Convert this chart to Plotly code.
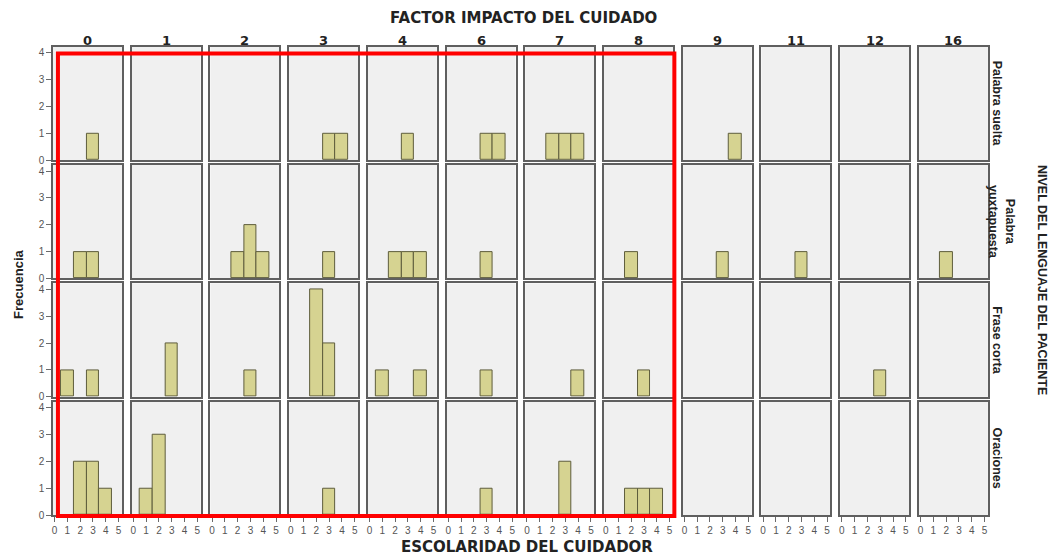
import plotly.graph_objects as go

# Facet categories
impacto = ["0", "1", "2", "3", "4", "6", "7", "8", "9", "11", "12", "16"]
niveles = ["Palabra suelta", "Palabra<br>yuxtapuesta", "Frase corta", "Oraciones"]
escolaridad = [0, 1, 2, 3, 4, 5]
y_ticks = [0, 1, 2, 3, 4]

# Frequency per escolaridad level (0..5), one list per "factor impacto" column
palabra_suelta = [
    [0, 0, 0, 1, 0, 0],  # 0
    [0, 0, 0, 0, 0, 0],  # 1
    [0, 0, 0, 0, 0, 0],  # 2
    [0, 0, 0, 1, 1, 0],  # 3
    [0, 0, 0, 1, 0, 0],  # 4
    [0, 0, 0, 1, 1, 0],  # 6
    [0, 0, 1, 1, 1, 0],  # 7
    [0, 0, 0, 0, 0, 0],  # 8
    [0, 0, 0, 0, 1, 0],  # 9
    [0, 0, 0, 0, 0, 0],  # 11
    [0, 0, 0, 0, 0, 0],  # 12
    [0, 0, 0, 0, 0, 0],  # 16
]
palabra_yuxtapuesta = [
    [0, 0, 1, 1, 0, 0],
    [0, 0, 0, 0, 0, 0],
    [0, 0, 1, 2, 1, 0],
    [0, 0, 0, 1, 0, 0],
    [0, 0, 1, 1, 1, 0],
    [0, 0, 0, 1, 0, 0],
    [0, 0, 0, 0, 0, 0],
    [0, 0, 1, 0, 0, 0],
    [0, 0, 0, 1, 0, 0],
    [0, 0, 0, 1, 0, 0],
    [0, 0, 0, 0, 0, 0],
    [0, 0, 1, 0, 0, 0],
]
frase_corta = [
    [0, 1, 0, 1, 0, 0],
    [0, 0, 0, 2, 0, 0],
    [0, 0, 0, 1, 0, 0],
    [0, 0, 4, 2, 0, 0],
    [0, 1, 0, 0, 1, 0],
    [0, 0, 0, 1, 0, 0],
    [0, 0, 0, 0, 1, 0],
    [0, 0, 0, 1, 0, 0],
    [0, 0, 0, 0, 0, 0],
    [0, 0, 0, 0, 0, 0],
    [0, 0, 0, 1, 0, 0],
    [0, 0, 0, 0, 0, 0],
]
oraciones = [
    [0, 0, 2, 2, 1, 0],
    [0, 1, 3, 0, 0, 0],
    [0, 0, 0, 0, 0, 0],
    [0, 0, 0, 1, 0, 0],
    [0, 0, 0, 0, 0, 0],
    [0, 0, 0, 1, 0, 0],
    [0, 0, 0, 2, 0, 0],
    [0, 0, 1, 1, 1, 0],
    [0, 0, 0, 0, 0, 0],
    [0, 0, 0, 0, 0, 0],
    [0, 0, 0, 0, 0, 0],
    [0, 0, 0, 0, 0, 0],
]
filas = [palabra_suelta, palabra_yuxtapuesta, frase_corta, oraciones]

W, H = 1051, 560
FONT = "Liberation Sans, Arial, sans-serif"
WIDE_FONT = "DejaVu Sans, Verdana, sans-serif"
BAR_FILL = "#d6d391"
BAR_LINE = "#5e5d3c"
PANEL_LINE = "#5f5f5f"
TEXT = "#222222"

# Panel grid geometry in pixels
COL_LEFT, COL_PITCH, COL_W = 52.0, 78.8, 69.0
ROW_TOP, ROW_PITCH, ROW_H = 47.3, 119.6, 114.6

fig = go.Figure()
layout = {}

n = 0
for r, fila in enumerate(filas):
    for c, counts in enumerate(fila):
        n += 1
        xa = "x" if n == 1 else f"x{n}"
        ya = "y" if n == 1 else f"y{n}"
        xs = [e for e, v in zip(escolaridad, counts) if v > 0]
        ys = [v for v in counts if v > 0]
        fig.add_trace(go.Bar(
            x=xs, y=ys, width=1.0, xaxis=xa, yaxis=ya,
            marker=dict(color=BAR_FILL, line=dict(color=BAR_LINE, width=1)),
            showlegend=False, hoverinfo="x+y",
        ))
        x0 = COL_LEFT + COL_PITCH * c
        y0 = ROW_TOP + ROW_PITCH * r
        bottom = r == len(filas) - 1
        left = c == 0
        layout["xaxis" if n == 1 else f"xaxis{n}"] = dict(
            domain=[x0 / W, (x0 + COL_W) / W], anchor=ya,
            range=[-0.13, 5.26], tickvals=escolaridad,
            showticklabels=bottom, ticks="outside" if bottom else "",
            ticklen=5, tickcolor="#6a6a6a", tickwidth=1,
            tickfont=dict(family=FONT, size=10, color="#555555"),
            showline=True, mirror=True, linecolor=PANEL_LINE, linewidth=1.5,
            showgrid=False, zeroline=False, fixedrange=True,
        )
        layout["yaxis" if n == 1 else f"yaxis{n}"] = dict(
            domain=[1 - (y0 + ROW_H) / H, 1 - y0 / H], anchor=xa,
            range=[0, 4.22], tickvals=y_ticks,
            showticklabels=left, ticks="outside" if left else "",
            ticklen=5, tickcolor="#6a6a6a", tickwidth=1,
            tickfont=dict(family=FONT, size=10, color="#555555"),
            showline=True, mirror=True, linecolor=PANEL_LINE, linewidth=1.5,
            showgrid=False, zeroline=False, fixedrange=True,
        )


def label(px, py, text, angle=0, size=12, family=FONT):
    return dict(
        x=px / W, y=1 - py / H, xref="paper", yref="paper",
        xanchor="center", yanchor="middle", text=f"<b>{text}</b>",
        textangle=angle, showarrow=False,
        font=dict(family=family, size=size, color=TEXT),
    )


annotations = []
# Column headers
for c, lab in enumerate(impacto):
    annotations.append(label(COL_LEFT + COL_PITCH * c + COL_W / 2, 41, lab,
                             size=13, family=WIDE_FONT))
# Row labels on the right (two-line label sits a bit further out)
right_edge = COL_LEFT + COL_PITCH * 11 + COL_W
for r, lab in enumerate(niveles):
    cy = ROW_TOP + ROW_PITCH * r + ROW_H / 2
    offset = 14 if "<br>" in lab else 9
    annotations.append(label(right_edge + offset, cy, lab, angle=90, size=12.5))
annotations += [
    label(523, 18, "FACTOR IMPACTO DEL CUIDADO", size=15, family=WIDE_FONT),
    label(527, 553, "ESCOLARIDAD DEL CUIDADOR", size=15, family=WIDE_FONT),
    label(18, 287, "Frecuencia", angle=-90, size=13),
    label(1042, 283, "NIVEL DEL LENGUAJE DEL PACIENTE", angle=90, size=12.5),
]

# Highlight frame around the first eight columns
shapes = [dict(
    type="rect", xref="paper", yref="paper",
    x0=57 / W, x1=674 / W, y0=1 - 521.5 / H, y1=1 - 54 / H,
    line=dict(color="#ff0000", width=4), fillcolor="rgba(0,0,0,0)", layer="above",
)]

fig.update_layout(
    width=W, height=H, margin=dict(l=0, r=0, t=0, b=0),
    paper_bgcolor="white", plot_bgcolor="#f0f0f0",
    bargap=0, annotations=annotations, shapes=shapes,
    font=dict(family=FONT),
    **layout,
)

fig.write_html("out.html")
